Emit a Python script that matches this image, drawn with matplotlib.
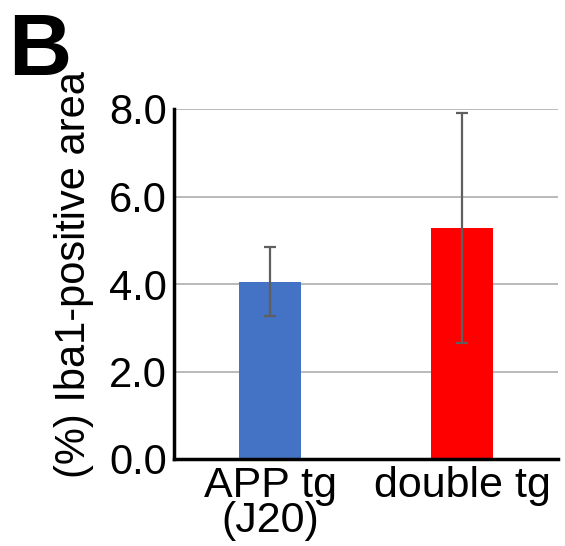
import numpy as np
import matplotlib
matplotlib.use('Agg')
import matplotlib.pyplot as plt

plt.rcParams['font.family'] = ['Liberation Sans', 'DejaVu Sans']

# данные
groups = ['APP tg\n(J20)', 'double tg']
means = [4.05, 5.28]
errs = [0.79, 2.62]
colors = ['#4472C4', '#FF0000']
yticks = [0.0, 2.0, 4.0, 6.0, 8.0]

fig = plt.figure(figsize=(5.65, 5.46), dpi=100)
ax = fig.add_axes([174/565, 1 - 459/546, 384/565, 350/546])

x = np.arange(len(groups)) + 0.5
ax.bar(x, means, width=0.32, color=colors, zorder=2)
ax.errorbar(x, means, yerr=errs, fmt='none', ecolor='#5f5f5f',
            elinewidth=1.6, capsize=4, capthick=1.6, zorder=3)

ax.set_xlim(0, 2)
ax.set_ylim(0, 8)
ax.set_yticks(yticks)
ax.set_yticklabels([f'{v:.1f}' for v in yticks])
ax.yaxis.grid(True, color='#b4b4b4', linewidth=1.3, zorder=1)
ax.set_axisbelow(True)

ax.set_xticks(x)
ax.set_xticklabels(groups, linespacing=0.85)
ax.tick_params(axis='y', length=0, labelsize=30, pad=5)
ax.tick_params(axis='x', length=0, labelsize=31, pad=5)

for s in ['top', 'right']:
    ax.spines[s].set_visible(False)
for s in ['left', 'bottom']:
    ax.spines[s].set_linewidth(2.5)
    ax.spines[s].set_color('black')

fig.text(74/565, 1 - 275/546, '(%) Iba1-positive area', rotation=90,
         ha='center', va='center', fontsize=30)

fig.text(8/565, 1 - 75/546, 'B', fontsize=63, fontweight='bold',
         ha='left', va='baseline')
fig.text(560/565, 1 - 77/546, '(', fontsize=60, ha='left', va='baseline')

fig.savefig('out.png', dpi=100)
